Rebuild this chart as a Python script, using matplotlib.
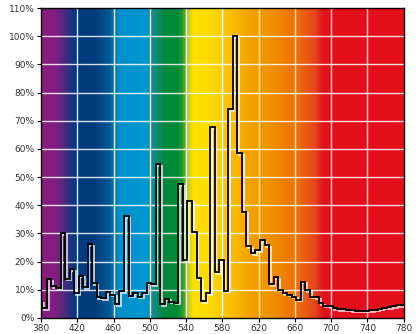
import numpy as np
import matplotlib
matplotlib.use("Agg")
import matplotlib.pyplot as plt
from matplotlib.colors import LinearSegmentedColormap
import matplotlib.patheffects as pe

# Relative spectral power, 5 nm bins (bin edges every 5 nm, starting 376.5 nm)
bin_edges = np.arange(376.5, 782.0, 5.0)
power = [6.0, 3.5, 13.7, 11.3, 10.7, 30.0, 14.0, 17.3, 8.8, 15.0,
         11.0, 26.2, 12.3, 7.3, 7.1, 9.3, 8.3, 5.0, 9.5, 36.2,
         7.9, 9.0, 7.6, 9.0, 12.5, 11.9, 54.6, 4.8, 6.8, 5.8,
         5.4, 47.4, 20.7, 41.6, 30.4, 14.2, 6.0, 8.7, 67.6, 16.3,
         20.7, 9.7, 74.0, 100.0, 58.6, 37.7, 25.4, 23.0, 24.1, 27.6,
         25.9, 12.1, 14.4, 10.0, 8.7, 8.3, 7.6, 6.5, 12.9, 9.9,
         7.6, 7.3, 5.2, 4.4, 4.2, 3.5, 3.2, 3.1, 3.0, 2.8,
         2.6, 2.6, 2.6, 2.7, 2.9, 3.3, 3.7, 3.9, 4.3, 4.6, 4.5]

x_ticks = [380, 420, 460, 500, 540, 580, 620, 660, 700, 740, 780]
y_ticks = [0, 10, 20, 30, 40, 50, 60, 70, 80, 90, 100, 110]
y_labels = [f"{v}%" for v in y_ticks]

# spectrum background colours (wavelength -> colour)
spec_nm = [380, 395, 408, 418, 440, 455, 465, 495, 505, 515, 530, 536, 542,
           548, 565, 585, 610, 640, 665, 682, 692, 780]
spec_col = ["#8c1c82", "#7f1f80", "#3a2f7e", "#00397c", "#003e7e", "#005b97",
            "#008fcb", "#0098d0", "#138a7f", "#00893c", "#008b38", "#2d9a2a",
            "#c2d00c", "#ffe000", "#fddc00", "#fbc500", "#f4a300", "#f08a00",
            "#ec6a0b", "#e4461c", "#e3101c", "#e3101c"]

fig = plt.figure(figsize=(4.19, 3.34), dpi=100)
ax = fig.add_axes([0.0979, 0.048, 0.8656, 0.928])

pos = [(w - 380) / 400 for w in spec_nm]
cmap = LinearSegmentedColormap.from_list("spec", list(zip(pos, spec_col)), N=512)
grad = np.linspace(0, 1, 400).reshape(1, -1)
ax.imshow(grad, cmap=cmap, aspect="auto", extent=[380, 780, 0, 110],
          interpolation="bilinear", zorder=0)

for xv in x_ticks[1:-1]:
    ax.axvline(xv, color="white", lw=1.0, alpha=0.9, zorder=1)
for yv in y_ticks[1:-1]:
    ax.axhline(yv, color="white", lw=1.0, alpha=0.85, zorder=1)

st = ax.stairs(power, bin_edges, color="black", lw=1.3, zorder=3)
st.set_path_effects([pe.SimpleLineShadow(offset=(1.2, -1.2), shadow_color="white",
                                         alpha=0.75), pe.Normal()])

ax.set_xlim(380, 780)
ax.set_ylim(0, 110)
ax.set_xticks(x_ticks)
ax.set_yticks(y_ticks)
ax.set_yticklabels(y_labels)
ax.tick_params(axis="both", labelsize=6.5, labelcolor="#333333", length=3,
               width=0.8, pad=1.5)
for s in ax.spines.values():
    s.set_linewidth(1.0)
    s.set_color("black")

fig.savefig("out.png", dpi=100)
